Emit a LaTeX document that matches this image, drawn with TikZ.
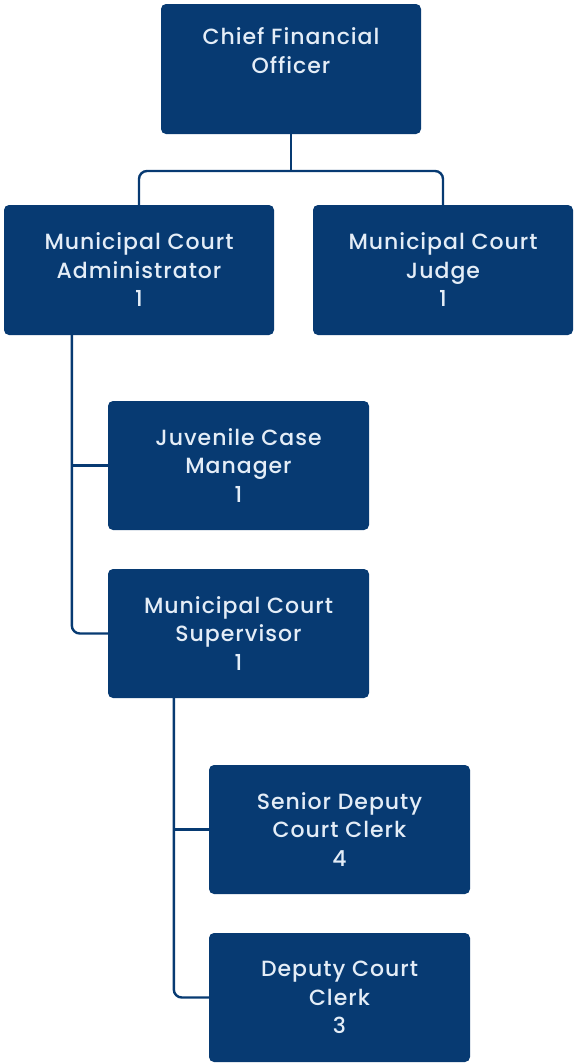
\documentclass[tikz,border=0pt]{standalone}
\usepackage{fontspec}
\setmainfont{Poppins}[UprightFont=* Medium, LetterSpace=4.5]
\usetikzlibrary{positioning}
\definecolor{navy}{HTML}{073A72}
\definecolor{boxtext}{HTML}{E4EDF7}
\tikzset{
  orgbox/.style={draw=none, fill=navy, rounded corners=5pt, text=boxtext,
    align=center, inner sep=0pt, font=\fontsize{22}{28.5}\selectfont},
  wide/.style={orgbox, minimum width=260pt, minimum height=130pt},
  narrow/.style={orgbox, minimum width=261pt, minimum height=129pt},
  link/.style={draw=navy, line width=2.4pt, rounded corners=8pt},
}
\begin{document}
\begin{tikzpicture}[x=1pt,y=-1pt]
\useasboundingbox (0,0) rectangle (574,1063);

\node[wide] (cfo) at (291,69) {Chief Financial\\Officer\\\strut};
\node[wide, minimum width=270pt] (adm) at (139,270) {Municipal Court\\Administrator\\1};
\node[wide] (jud) at (443,270) {Municipal Court\\Judge\\1};
\node[narrow] (juv) at (238.5,465.5) {Juvenile Case\\Manager\\1};
\node[narrow] (sup) at (238.5,633.5) {Municipal Court\\Supervisor\\1};
\node[narrow] (sen) at (339.5,829.5) {Senior Deputy\\Court Clerk\\4};
\node[narrow] (dep) at (339.5,997.5) {Deputy Court\\Clerk\\3};

% top split: CFO to its two direct reports
\coordinate (bar) at (291,171);
\draw[link] (cfo.south) -- (bar);
\draw[link] (adm.north) -- (adm.north |- bar) -- (jud.north |- bar) -- (jud.north);

% administrator spine
\coordinate (aspine) at ([xshift=68pt]adm.south west);
\draw[link] (aspine) |- (sup.west);
\draw[link] (aspine |- juv.west) -- (juv.west);

% supervisor spine
\coordinate (sspine) at ([xshift=66pt]sup.south west);
\draw[link] (sspine) |- (dep.west);
\draw[link] (sspine |- sen.west) -- (sen.west);
\end{tikzpicture}
\end{document}
